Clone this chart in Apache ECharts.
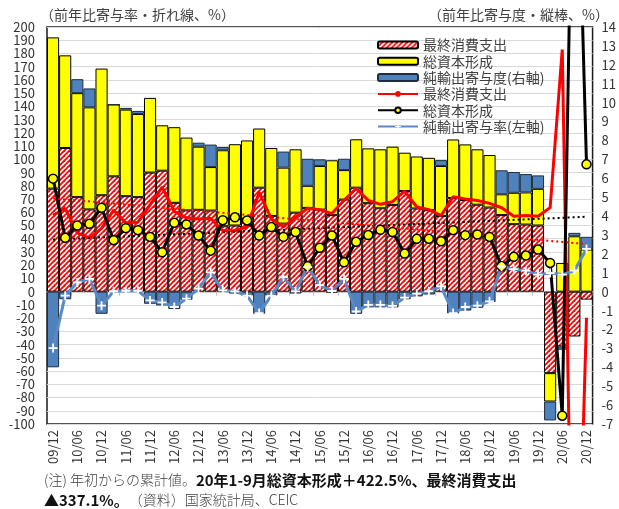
<!DOCTYPE html>
<html>
<head>
<meta charset="utf-8">
<script src="https://cdn.jsdelivr.net/npm/echarts@6.0.0/dist/echarts.min.js"></script>
<style>
  html, body { margin: 0; padding: 0; background: #fff; }
  #main { width: 619px; height: 509px; }
</style>
</head>
<body>
<div id="main"></div>
<script>
// quarters, year-to-date cumulative
var categories = [
  '09/12',
  '10/03', '10/06', '10/09', '10/12',
  '11/03', '11/06', '11/09', '11/12',
  '12/03', '12/06', '12/09', '12/12',
  '13/03', '13/06', '13/09', '13/12',
  '14/03', '14/06', '14/09', '14/12',
  '15/03', '15/06', '15/09', '15/12',
  '16/03', '16/06', '16/09', '16/12',
  '17/03', '17/06', '17/09', '17/12',
  '18/03', '18/06', '18/09', '18/12',
  '19/03', '19/06', '19/09', '19/12',
  '20/03', '20/06', '20/09', '20/12'
]

// contributions (right axis, % pt)
var consContrib = [
  5.45,
  7.6, 5.0, 4.35, 5.1,
  6.1, 5.05, 5.0, 6.3,
  6.4, 4.7, 4.3, 4.33,
  4.29, 3.46, 3.5, 3.8,
  5.5, 4.0, 3.6, 4.18,
  4.43, 4.34, 4.05, 4.87,
  5.5, 4.68, 4.41, 4.59,
  5.32, 4.4, 4.31, 4.0,
  4.95, 4.85, 4.6, 4.45,
  4.05, 3.57, 3.55, 3.5,
  -4.31, -2.9, -2.37, -0.42
]
var invContrib = [
  8.0,
  4.9, 5.5, 5.4, 6.7,
  3.8, 4.58, 4.4, 3.95,
  2.4, 4.0, 3.85, 3.34,
  2.3, 4.02, 4.3, 4.2,
  3.13, 3.6, 2.96, 3.35,
  1.17, 2.31, 2.9, 1.56,
  2.56, 2.9, 3.12, 3.08,
  2.03, 2.75, 2.77, 2.65,
  3.1, 2.94, 2.93, 2.78,
  1.1, 1.66, 1.7, 1.94,
  -1.5, 1.52, 2.93, 2.23
]
var netContrib = [
  -4.0,
  -0.4, 0.74, 1.0, -1.17,
  0, 0.09, 0.16, -0.64,
  -0.73, -0.92, -0.43, 0.21,
  1.19, 0.17, -0.1, -0.2,
  -1.17, -0.2, 0.85, -0.1,
  1.43, 0.35, -0.05, 0.6,
  -1.17, -0.83, -0.83, -0.83,
  -0.4, -0.25, -0.15, 0.31,
  -1.15, -1.0, -0.85, -0.55,
  1.27, 1.1, 0.97, 0.71,
  -1.0, -0.17, 0.18, 0.67
]

// contribution rates (left axis, %)
var consRate = [
  57.7,
  63, 44.5, 40.5, 47.8,
  61.6, 52, 52.5, 65.6,
  79, 60.6, 55.8, 55,
  55.3, 46, 46, 49,
  75, 55, 49, 56,
  63, 62, 59, 69,
  78, 69, 66, 68,
  76, 64, 62, 57.5,
  71.7, 70, 68.9, 66.7,
  63.4, 57, 57.5, 57,
  63.5, 183, -337.1, -19.7
]
var invRate = [
  85.4,
  40.7, 50, 51.3, 63.4,
  38.9, 48, 46.5, 41.4,
  29.8, 52, 50.8, 42.4,
  31, 54, 56.2, 53.8,
  42.4, 48.8, 41.4, 45.1,
  19.2, 33.2, 42.4, 22.2,
  37.7, 42.8, 46.7, 45.1,
  28.8, 39.9, 39.9, 38.1,
  46.5, 42.7, 43.2, 41.4,
  19.2, 26.3, 27.3, 31.8,
  21.7, -93.7, 422.5, 96.2
]
var netRate = [
  -42.6,
  -3, 7, 9.6, -10.6,
  0.3, 0.7, 0.7, -6.6,
  -8.1, -11.6, -5.3, 2.3,
  14.6, 1, 0.2, -3,
  -16.2, -3, 11, 0.2,
  18.5, 5, 0.5, 9.6,
  -15, -10, -10, -10.8,
  -4.5, -1.5, 0.3, 4,
  -16.2, -11.6, -10.6, -7.3,
  19, 17, 15.9, 12.9,
  14.1, 12.9, 15.9, 32.3
]

// trend lines (first and last point)
var blackTrend = [39.4, 56.6]
var redTrend = [70.5, 36]

var leftTicks = { min: -100, max: 200, interval: 10 }
var rightTicks = { min: -7, max: 14, interval: 1 }

var FONT = "'Noto Sans CJK JP', 'Noto Sans', sans-serif"

function hatch() {
  var c = document.createElement('canvas')
  c.width = 5
  c.height = 5
  var ctx = c.getContext('2d')
  ctx.fillStyle = '#ffffff'
  ctx.fillRect(0, 0, 5, 5)
  ctx.strokeStyle = '#ff0000'
  ctx.lineWidth = 1.8
  for (var k = -5; k <= 5; k += 5) {
    ctx.beginPath()
    ctx.moveTo(k - 1, 6)
    ctx.lineTo(k + 6, -1)
    ctx.stroke()
  }
  return c
}

function trendData(ends) {
  return [[0, ends[0]], [categories.length - 1, ends[1]]]
}

var chart = echarts.init(document.getElementById('main'))

var option = {
  animation: false,
  textStyle: { fontFamily: FONT },
  title: [
    {
      text: '（前年比寄与率・折れ線、%）',
      left: 40,
      top: 8,
      padding: 0,
      textStyle: { fontSize: 14, fontWeight: 'normal', color: '#404040', fontFamily: FONT }
    },
    {
      text: '（前年比寄与度・縦棒、%）',
      left: 428,
      top: 8,
      padding: 0,
      textStyle: { fontSize: 14, fontWeight: 'normal', color: '#404040', fontFamily: FONT }
    },
    {
      text: '{n|(注) 年初からの累計値。}{b|20年1-9月総資本形成＋422.5%、最終消費支出}\n{b|▲337.1%。}{n|（資料）国家統計局、CEIC}',
      left: 44,
      top: 470,
      padding: 0,
      textStyle: {
        fontSize: 14,
        lineHeight: 20,
        rich: {
          n: { fontSize: 14, color: '#404040', fontWeight: 300, fontFamily: FONT, lineHeight: 20 },
          b: { fontSize: 15, color: '#111', fontWeight: 'bold', fontFamily: FONT, lineHeight: 20 }
        }
      }
    }
  ],
  legend: {
    orient: 'vertical',
    left: 372,
    top: 33,
    itemWidth: 40,
    itemHeight: 7,
    itemGap: 2.3,
    textStyle: { fontSize: 14, color: '#404040', lineHeight: 14, fontFamily: FONT },
    data: ['最終消費支出', '総資本形成', '純輸出寄与度(右軸)', '最終消費支出 ', '総資本形成 ', '純輸出寄与率(左軸)']
  },
  grid: {
    show: true,
    left: 47,
    right: 24,
    top: 27,
    bottom: 85,
    borderColor: '#1a1a1a',
    borderWidth: 1.5,
    backgroundColor: 'transparent'
  },
  xAxis: [
    {
      type: 'category',
      data: categories,
      position: 'bottom',
      axisLine: { show: false, onZero: false },
      axisTick: { show: false },
      axisLabel: {
        interval: 1,
        rotate: 90,
        fontSize: 13,
        color: '#333',
        margin: 6,
        fontFamily: FONT
      },
      splitLine: { show: false }
    },
    {
      type: 'category',
      data: categories,
      position: 'bottom',
      axisLine: { show: true, onZero: true, lineStyle: { color: '#bfbfbf', width: 1.5 } },
      axisTick: { show: true, interval: 1, length: 4, lineStyle: { color: '#bfbfbf', width: 1 } },
      axisLabel: { show: false },
      splitLine: { show: false }
    }
  ],
  yAxis: [
    {
      type: 'value',
      min: leftTicks.min,
      max: leftTicks.max,
      interval: leftTicks.interval,
      axisLine: { show: false },
      axisTick: { show: false },
      axisLabel: { fontSize: 13, color: '#333', margin: 12, fontFamily: FONT },
      splitLine: { show: true, lineStyle: { color: '#d9d9d9', width: 1 } }
    },
    {
      type: 'value',
      position: 'right',
      min: rightTicks.min,
      max: rightTicks.max,
      interval: rightTicks.interval,
      axisLine: { show: false },
      axisTick: { show: false },
      axisLabel: { fontSize: 13, color: '#333', margin: 9, fontFamily: FONT },
      splitLine: { show: false }
    }
  ],
  series: [
    {
      name: '最終消費支出',
      type: 'bar',
      stack: 'contrib',
      yAxisIndex: 1,
      barCategoryGap: '0%',
      itemStyle: { color: { image: hatch(), repeat: 'repeat' }, borderColor: '#000', borderWidth: 1 },
      data: consContrib
    },
    {
      name: '総資本形成',
      type: 'bar',
      stack: 'contrib',
      yAxisIndex: 1,
      barCategoryGap: '0%',
      itemStyle: { color: '#ffff00', borderColor: '#000', borderWidth: 1 },
      data: invContrib
    },
    {
      name: '純輸出寄与度(右軸)',
      type: 'bar',
      stack: 'contrib',
      yAxisIndex: 1,
      barCategoryGap: '0%',
      itemStyle: { color: '#4f81bd', borderColor: '#1f2d3d', borderWidth: 1 },
      data: netContrib
    },
    {
      name: '最終消費支出 ',
      type: 'line',
      yAxisIndex: 0,
      symbol: 'none',
      lineStyle: { color: '#ff0000', width: 3 },
      itemStyle: { color: '#ff0000' },
      data: consRate
    },
    {
      name: '総資本形成 ',
      type: 'line',
      yAxisIndex: 0,
      symbol: 'circle',
      symbolSize: 9,
      showAllSymbol: true,
      lineStyle: { color: '#000', width: 3 },
      itemStyle: { color: '#ffff00', borderColor: '#000', borderWidth: 1.5 },
      data: invRate
    },
    {
      name: '純輸出寄与率(左軸)',
      type: 'line',
      yAxisIndex: 0,
      symbol: 'path://M4 0H6V4H10V6H6V10H4V6H0V4H4Z',
      symbolSize: 9,
      showAllSymbol: true,
      lineStyle: { color: '#5a8ac6', width: 3 },
      itemStyle: { color: '#ffffff' },
      data: netRate
    },
    {
      name: 'trendBlack',
      type: 'line',
      yAxisIndex: 0,
      symbol: 'none',
      lineStyle: { color: '#000', width: 2, type: [2, 3] },
      data: trendData(blackTrend)
    },
    {
      name: 'trendRed',
      type: 'line',
      yAxisIndex: 0,
      symbol: 'none',
      lineStyle: { color: '#ff0000', width: 2, type: [2, 3] },
      data: trendData(redTrend)
    }
  ]
}

chart.setOption(option)
</script>
</body>
</html>
